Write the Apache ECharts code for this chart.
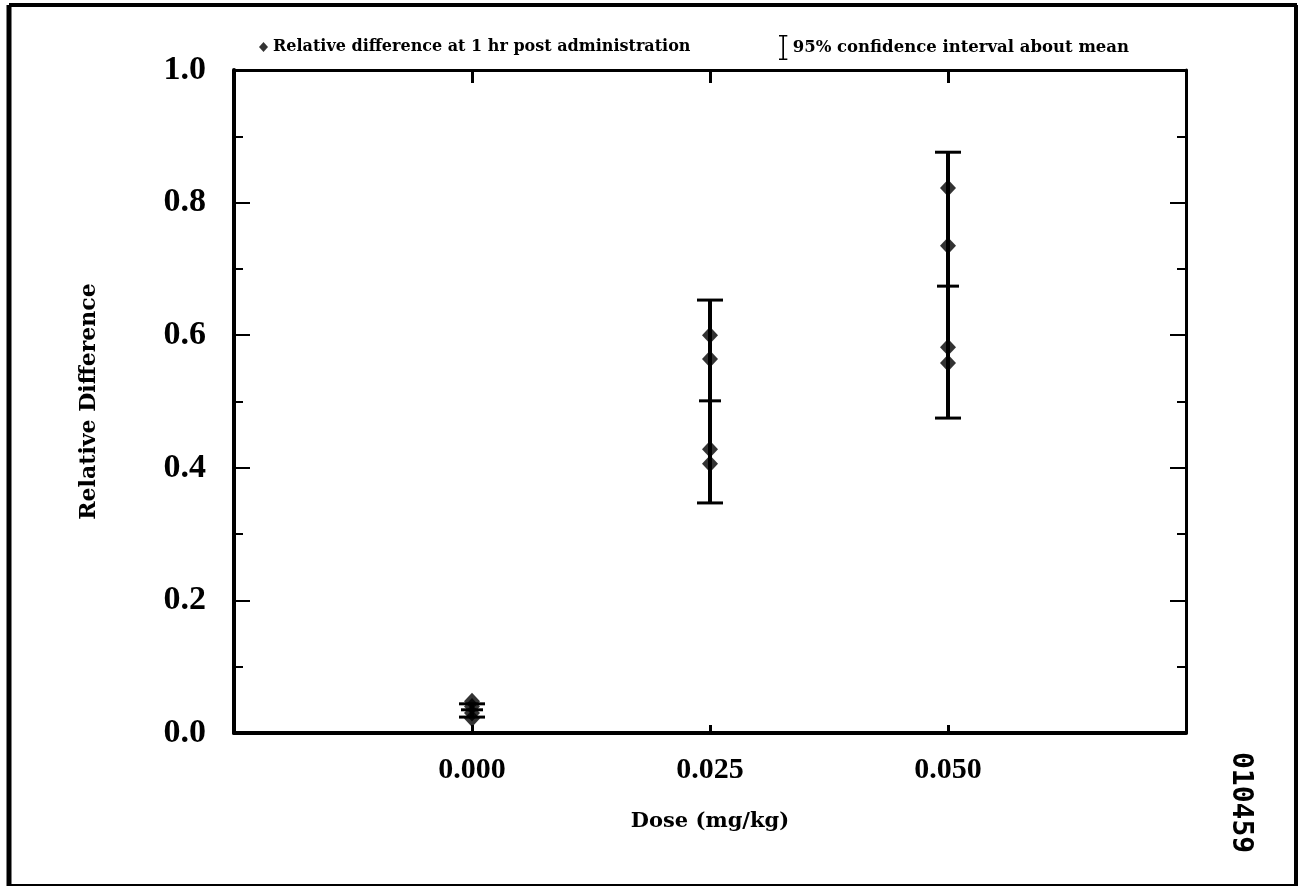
<!DOCTYPE html>
<html>
<head>
<meta charset="utf-8">
<title>Relative Difference vs Dose</title>
<script src="https://cdn.jsdelivr.net/npm/echarts@6/dist/echarts.min.js"></script>
<style>
  html, body { margin: 0; padding: 0; background: #fff; }
  #myEcharts { width: 1305px; height: 889px; }
</style>
</head>
<body>
<div id="myEcharts"></div>
<script>
// data
const doses = [0.000, 0.025, 0.050]
const pointsDose0 = [0.048, 0.040, 0.030, 0.022]
const pointsDose25 = [0.600, 0.564, 0.428, 0.406]
const pointsDose50 = [0.822, 0.735, 0.582, 0.558]
const ciMean = [0.035, 0.501, 0.674]
const ciLow = [0.024, 0.347, 0.475]
const ciHigh = [0.044, 0.653, 0.876]
const xTickLabels = ["0.000", "0.025", "0.050"]
const yTickLabels = ["0.0", "0.2", "0.4", "0.6", "0.8", "1.0"]

const pointName = "Relative difference at 1 hr post administration"
const ciName = "95% confidence interval about mean"

const serif = "Liberation Serif"
const wide = "DejaVu Serif"

let scatterData = []
;[pointsDose0, pointsDose25, pointsDose50].forEach((pts, i) => {
  pts.forEach(v => scatterData.push([doses[i], v]))
})
const ciData = doses.map((d, i) => [d, ciMean[i], ciLow[i], ciHigh[i]])

const chart = echarts.init(document.getElementById("myEcharts"))

function xLabel(val) {
  const i = doses.findIndex(d => Math.abs(d - val) < 1e-9)
  return i >= 0 ? xTickLabels[i] : ""
}
function yLabel(val) {
  const i = Math.round(val / 0.2)
  return Math.abs(val - i * 0.2) < 1e-9 ? yTickLabels[i] : ""
}

const axisLine = { show: true, onZero: false, lineStyle: { color: "#000", width: 3 } }

chart.setOption({
  backgroundColor: "#fff",
  animation: false,
  grid: { left: 234, right: 119, top: 70, bottom: 156 },
  legend: [
    {
      data: [pointName],
      left: 254, top: 34,
      icon: "diamond", itemWidth: 9, itemHeight: 10, itemGap: 6,
      textStyle: { fontFamily: wide, fontWeight: "bold", fontSize: 16, color: "#000" }
    },
    {
      data: [ciName],
      left: 774, top: 30,
      icon: "path://M0,0 L8,0 L8,1.5 L4.8,1.5 L4.8,22.5 L8,22.5 L8,24 L0,24 L0,22.5 L3.2,22.5 L3.2,1.5 L0,1.5 Z",
      itemWidth: 9, itemHeight: 25, itemGap: 10,
      textStyle: { fontFamily: wide, fontWeight: "bold", fontSize: 16.5, color: "#000" }
    }
  ],
  xAxis: [
    {
      type: "value", position: "bottom",
      min: -0.025, max: 0.075, interval: 0.025,
      name: "Dose (mg/kg)", nameLocation: "middle", nameGap: 78,
      nameTextStyle: { fontFamily: wide, fontWeight: "bold", fontSize: 21, color: "#000" },
      axisLine: { show: true, onZero: false, lineStyle: { color: "#000", width: 4 } },
      axisTick: { show: true, inside: true, length: 8, lineStyle: { color: "#000", width: 3 } },
      axisLabel: { formatter: xLabel, margin: 22, fontFamily: serif, fontWeight: "bold", fontSize: 30, color: "#000" },
      splitLine: { show: false }
    },
    {
      type: "value", position: "top",
      min: -0.025, max: 0.075, interval: 0.025,
      axisLine: axisLine,
      axisTick: { show: true, inside: true, length: 13, lineStyle: { color: "#000", width: 3 } },
      axisLabel: { show: false },
      splitLine: { show: false }
    }
  ],
  yAxis: [
    {
      type: "value", position: "left",
      min: 0, max: 1, interval: 0.2,
      name: "Relative Difference", nameLocation: "middle", nameGap: 134, nameRotate: 90,
      nameTextStyle: { fontFamily: wide, fontWeight: "bold", fontSize: 22, color: "#000" },
      axisLine: { show: true, onZero: false, lineStyle: { color: "#000", width: 4 } },
      axisTick: { show: true, inside: true, length: 16, lineStyle: { color: "#000", width: 2 } },
      minorTick: { show: true, splitNumber: 2, length: 9, lineStyle: { color: "#000", width: 2 } },
      axisLabel: { formatter: yLabel, margin: 28, fontFamily: serif, fontWeight: "bold", fontSize: 34, color: "#000" },
      splitLine: { show: false }
    },
    {
      type: "value", position: "right",
      min: 0, max: 1, interval: 0.2,
      axisLine: axisLine,
      axisTick: { show: true, inside: true, length: 16, lineStyle: { color: "#000", width: 2 } },
      minorTick: { show: true, splitNumber: 2, length: 9, lineStyle: { color: "#000", width: 2 } },
      axisLabel: { show: false },
      splitLine: { show: false }
    }
  ],
  series: [
    {
      name: ciName,
      type: "custom",
      xAxisIndex: 0, yAxisIndex: 0,
      itemStyle: { color: "#000" },
      data: ciData,
      renderItem: function (params, api) {
        const x = api.value(0)
        const m = api.coord([x, api.value(1)])
        const lo = api.coord([x, api.value(2)])
        const hi = api.coord([x, api.value(3)])
        const st = { stroke: "#000", lineWidth: 4 }
        const cap = { stroke: "#000", lineWidth: 3 }
        return {
          type: "group",
          children: [
            { type: "line", shape: { x1: hi[0], y1: hi[1], x2: lo[0], y2: lo[1] }, style: st },
            { type: "line", shape: { x1: hi[0] - 13, y1: hi[1], x2: hi[0] + 13, y2: hi[1] }, style: cap },
            { type: "line", shape: { x1: lo[0] - 13, y1: lo[1], x2: lo[0] + 13, y2: lo[1] }, style: cap },
            { type: "line", shape: { x1: m[0] - 11, y1: m[1], x2: m[0] + 11, y2: m[1] }, style: cap }
          ]
        }
      }
    },
    {
      name: pointName,
      type: "scatter",
      xAxisIndex: 0, yAxisIndex: 0,
      symbol: "diamond",
      symbolSize: [16, 17],
      itemStyle: { color: "#000" },
      data: scatterData
    }
  ],
  graphic: [
    // page border of the scan
    { type: "line", shape: { x1: 9, y1: 5, x2: 1297, y2: 5 }, style: { stroke: "#000", lineWidth: 4 } },
    { type: "line", shape: { x1: 9, y1: 5, x2: 9, y2: 886 }, style: { stroke: "#000", lineWidth: 5 } },
    { type: "line", shape: { x1: 1296, y1: 5, x2: 1296, y2: 886 }, style: { stroke: "#000", lineWidth: 4 } },
    { type: "line", shape: { x1: 9, y1: 885, x2: 1297, y2: 885 }, style: { stroke: "#000", lineWidth: 2 } },
    {
      type: "text", x: 1254, y: 752, rotation: -Math.PI / 2,
      style: { text: "010459", fontFamily: "DejaVu Sans Mono", fontWeight: "bold", fontSize: 28, fill: "#000" }
    }
  ]
})
</script>
</body>
</html>
